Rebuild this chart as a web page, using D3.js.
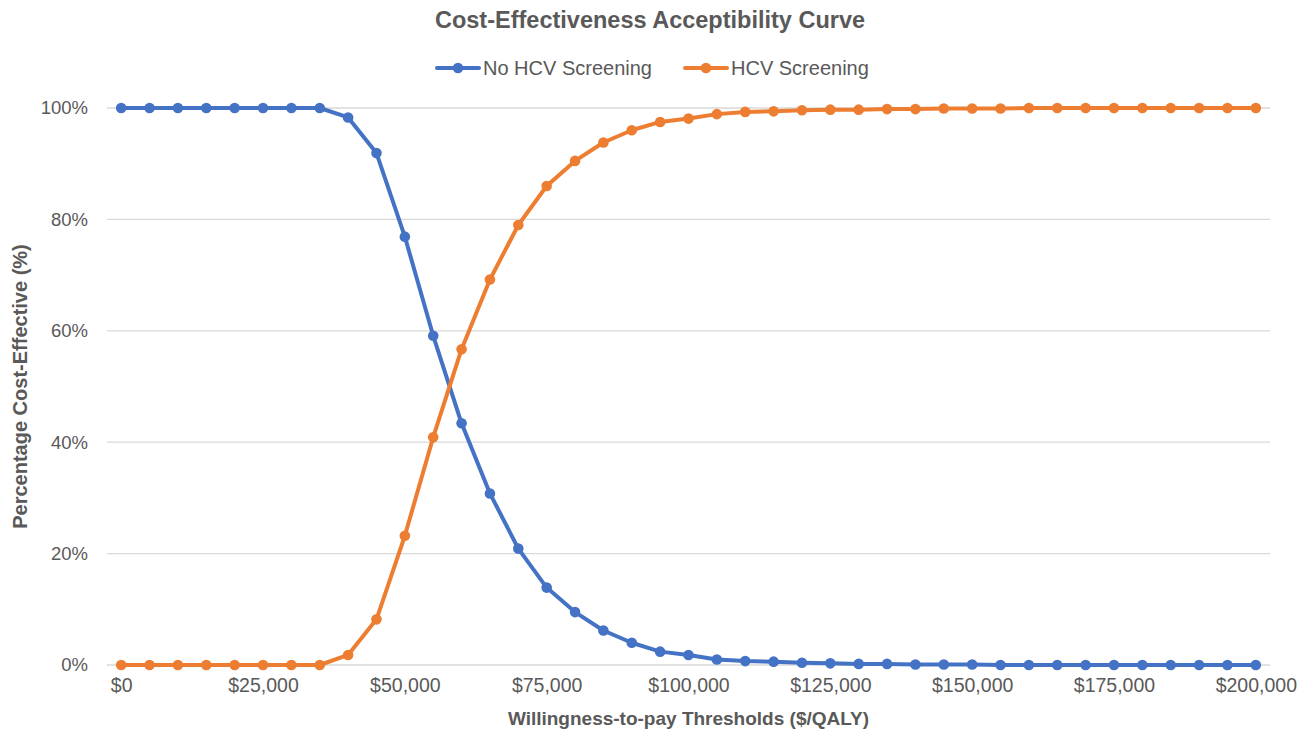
<!DOCTYPE html>
<html>
<head>
<meta charset="utf-8">
<script src="https://cdn.jsdelivr.net/npm/d3@7"></script>
<style>
  body { margin: 0; background: #fff; }
  svg { display: block; font-family: "Liberation Sans", Arial, sans-serif; }
</style>
</head>
<body>
<svg id="chart" width="1309" height="730"></svg>
<script>
const thresholds = d3.range(0, 200001, 5000);
const noScreening = [100,100,100,100,100,100,100,100,98.3,91.9,76.9,59.1,43.4,30.8,20.9,13.9,9.5,6.2,4.0,2.4,1.8,1.0,0.7,0.6,0.4,0.3,0.2,0.2,0.1,0.1,0.1,0,0,0,0,0,0,0,0,0,0];
const screening = [0,0,0,0,0,0,0,0,1.8,8.2,23.2,40.9,56.7,69.2,79.0,86.0,90.5,93.8,96.0,97.5,98.1,98.9,99.3,99.4,99.6,99.7,99.7,99.8,99.8,99.9,99.9,99.9,100,100,100,100,100,100,100,100,100];
const seriesNames = ["No HCV Screening", "HCV Screening"];
const seriesColors = ["#4472C4", "#ED7D31"];
const yTicks = [0, 20, 40, 60, 80, 100];
const xTicks = [0, 25000, 50000, 75000, 100000, 125000, 150000, 175000, 200000];

const svg = d3.select("#chart");
const pLeft = 107, pRight = 1270, pTop = 108, pBottom = 665;
const textColor = "#595959";

const x = d3.scaleLinear().domain([-2500, 202500]).range([pLeft, pRight]);
const y = d3.scaleLinear().domain([0, 100]).range([pBottom, pTop]);

// gridlines
svg.append("g").selectAll("line").data(yTicks).join("line")
  .attr("x1", pLeft).attr("x2", pRight)
  .attr("y1", d => y(d)).attr("y2", d => y(d))
  .attr("stroke", "#D9D9D9").attr("stroke-width", 1.3);

// y axis labels
const yAxis = svg.append("g").attr("transform", `translate(${pLeft},0)`)
  .call(d3.axisLeft(y).tickValues(yTicks).tickFormat(d => d + "%").tickSize(0).tickPadding(19));
yAxis.select(".domain").remove();
yAxis.selectAll("text").attr("fill", textColor).style("font-size", "18.5px")
  .style("font-family", "'Liberation Sans', Arial, sans-serif");

// x axis labels
const xAxis = svg.append("g").attr("transform", `translate(0,${pBottom})`)
  .call(d3.axisBottom(x).tickValues(xTicks).tickFormat(d => "$" + d3.format(",")(d)).tickSize(0).tickPadding(13));
xAxis.select(".domain").remove();
xAxis.selectAll("text").attr("fill", textColor).style("font-size", "19.5px")
  .style("font-family", "'Liberation Sans', Arial, sans-serif");

// lines
const data = [noScreening, screening];
const line = d3.line().x((d, i) => x(thresholds[i])).y(d => y(d));
data.forEach((vals, si) => {
  svg.append("path").datum(vals)
    .attr("fill", "none").attr("stroke", seriesColors[si])
    .attr("stroke-width", 4).attr("stroke-linejoin", "round").attr("stroke-linecap", "round")
    .attr("d", line);
  svg.append("g").selectAll("circle").data(vals).join("circle")
    .attr("cx", (d, i) => x(thresholds[i])).attr("cy", d => y(d))
    .attr("r", 5.3).attr("fill", seriesColors[si]);
});

// title
svg.append("text").attr("x", 650).attr("y", 28).attr("text-anchor", "middle")
  .attr("fill", textColor).style("font-size", "23.5px").style("font-weight", "bold")
  .text("Cost-Effectiveness Acceptibility Curve");

// legend
const legendItems = [{x: 437}, {x: 685}];
legendItems.forEach((it, i) => {
  const g = svg.append("g");
  g.append("line").attr("x1", it.x).attr("x2", it.x + 42).attr("y1", 68).attr("y2", 68)
    .attr("stroke", seriesColors[i]).attr("stroke-width", 4).attr("stroke-linecap", "round");
  g.append("circle").attr("cx", it.x + 21).attr("cy", 68).attr("r", 5.3).attr("fill", seriesColors[i]);
  g.append("text").attr("x", it.x + 46).attr("y", 75).attr("fill", textColor)
    .style("font-size", "20px").text(seriesNames[i]);
});

// axis titles
svg.append("text").attr("x", (pLeft + pRight) / 2).attr("y", 725).attr("text-anchor", "middle")
  .attr("fill", textColor).style("font-size", "19px").style("font-weight", "bold")
  .text("Willingness-to-pay Thresholds ($/QALY)");
svg.append("text").attr("transform", `translate(27,${(pTop + pBottom) / 2}) rotate(-90)`)
  .attr("text-anchor", "middle").attr("fill", textColor)
  .style("font-size", "20px").style("font-weight", "bold")
  .text("Percentage Cost-Effective (%)");
</script>
</body>
</html>
